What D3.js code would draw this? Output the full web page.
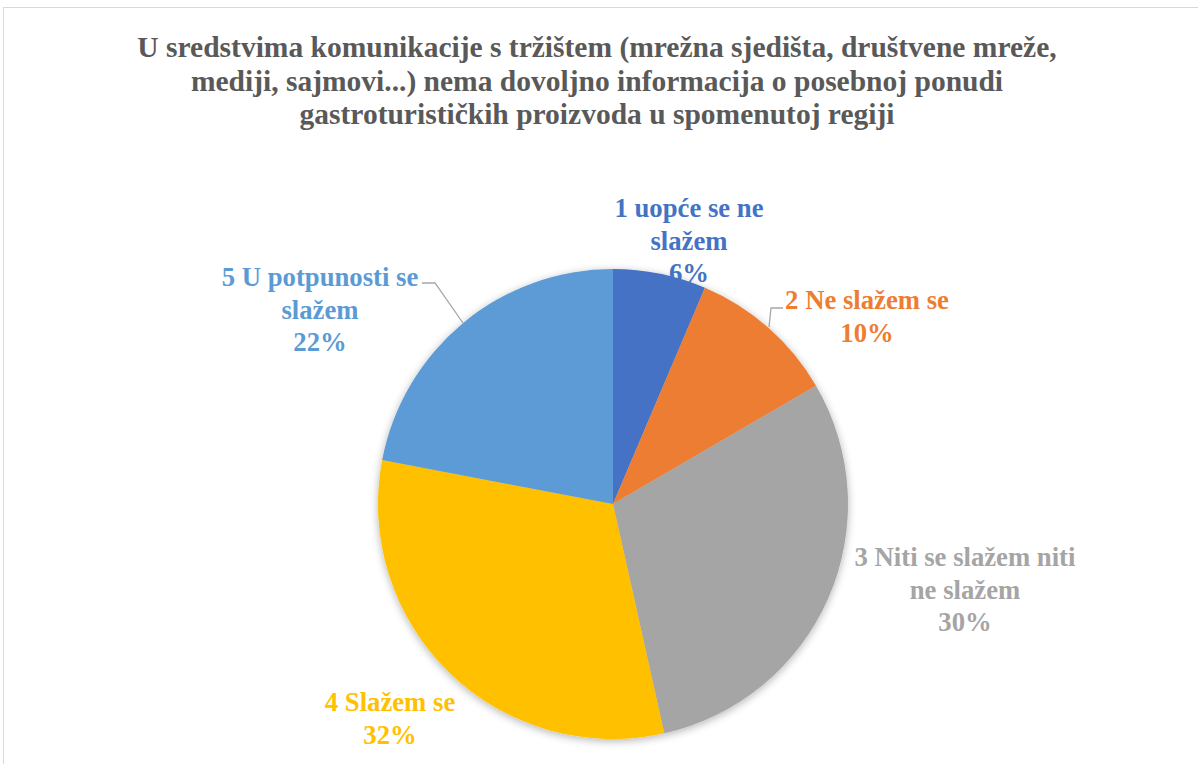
<!DOCTYPE html>
<html>
<head>
<meta charset="utf-8">
<script src="https://cdn.jsdelivr.net/npm/d3@7"></script>
</head>
<body style="margin:0">
<div id="chart"></div>
<script>
// data
var categories = ['1 uopće se ne slažem', '2 Ne slažem se', '3 Niti se slažem niti ne slažem', '4 Slažem se', '5 U potpunosti se slažem'];
var values = [6.4, 10.2, 29.9, 31.5, 22.0];
var colors = ['#4472C4', '#ED7D31', '#A5A5A5', '#FFC000', '#5B9BD5'];
// label lines as drawn (wrapped)
var labelLines = [
    ['1 uopće se ne', 'slažem'],
    ['2 Ne slažem se'],
    ['3 Niti se slažem niti', 'ne slažem'],
    ['4 Slažem se'],
    ['5 U potpunosti se', 'slažem']
];
var titleLines = [
    'U sredstvima komunikacije s tržištem (mrežna sjedišta, društvene mreže,',
    'mediji, sajmovi...) nema dovoljno informacija o posebnoj ponudi',
    'gastroturističkih proizvoda u spomenutoj regiji'
];

var width = 1198, height = 764;
var cx = 613, cy = 504, r = 235;

var svg = d3.select('#chart')
    .append('svg')
    .attr('width', width)
    .attr('height', height)
    .style('font-family', '"Liberation Serif"');

// border
svg.append('rect')
    .attr('x', 3.5).attr('y', 7.5)
    .attr('width', 1210).attr('height', 800)
    .attr('fill', 'none')
    .attr('stroke', '#d9d9d9')
    .attr('stroke-width', 1);

// title
svg.append('g').selectAll('text')
    .data(titleLines)
    .enter().append('text')
    .attr('x', 597)
    .attr('y', (d, i) => 57 + i * 33.5)
    .attr('text-anchor', 'middle')
    .style('font-family', '"Liberation Serif"')
    .style('font-size', '29.5px')
    .style('font-weight', 'bold')
    .attr('fill', '#595959')
    .text(d => d);

// shadow
var defs = svg.append('defs');
var shadow = defs.append('filter').attr('id', 'shadow')
    .attr('x', '-10%').attr('y', '-10%').attr('width', '120%').attr('height', '120%');
shadow.append('feGaussianBlur').attr('in', 'SourceAlpha').attr('stdDeviation', 4);
shadow.append('feOffset').attr('dx', 0).attr('dy', 2);
shadow.append('feComponentTransfer').append('feFuncA').attr('type', 'linear').attr('slope', 0.3);
var merge = shadow.append('feMerge');
merge.append('feMergeNode');
merge.append('feMergeNode').attr('in', 'SourceGraphic');

var pie = d3.pie().sort(null).value(d => d);
var arc = d3.arc().innerRadius(0).outerRadius(r);
var arcs = pie(values);

var g = svg.append('g').attr('transform', `translate(${cx},${cy})`);
g.append('g').attr('filter', 'url(#shadow)')
    .selectAll('path')
    .data(arcs)
    .enter().append('path')
    .attr('d', arc)
    .attr('fill', (d, i) => colors[i]);

// label anchor positions (centre x, first baseline y), relative to pie centre
var labelPos = [
    [76, -287],
    [254, -195],
    [352, 62],
    [-223, 207],
    [-293, -218]
];

// leader lines
var leaders = [
    null,
    [[170, -196], [158, -196], [156, -177]],
    null,
    null,
    [[-191, -221], [-178, -221], [-150, -181]]
];
leaders.forEach((pts, i) => {
    if (!pts) return;
    g.append('path')
        .attr('d', d3.line()(pts))
        .attr('fill', 'none')
        .attr('stroke', '#a6a6a6')
        .attr('stroke-width', 1.3);
});

arcs.forEach((d, i) => {
    var lines = labelLines[i].concat([Math.round(values[i]) + '%']);
    var t = g.append('text')
        .attr('text-anchor', 'middle')
        .style('font-family', '"Liberation Serif"')
        .style('font-size', '26.7px')
        .style('font-weight', 'bold')
        .attr('fill', colors[i]);
    lines.forEach((ln, j) => {
        t.append('tspan')
            .attr('x', labelPos[i][0])
            .attr('y', labelPos[i][1] + j * 32.5)
            .text(ln);
    });
});
</script>
</body>
</html>
